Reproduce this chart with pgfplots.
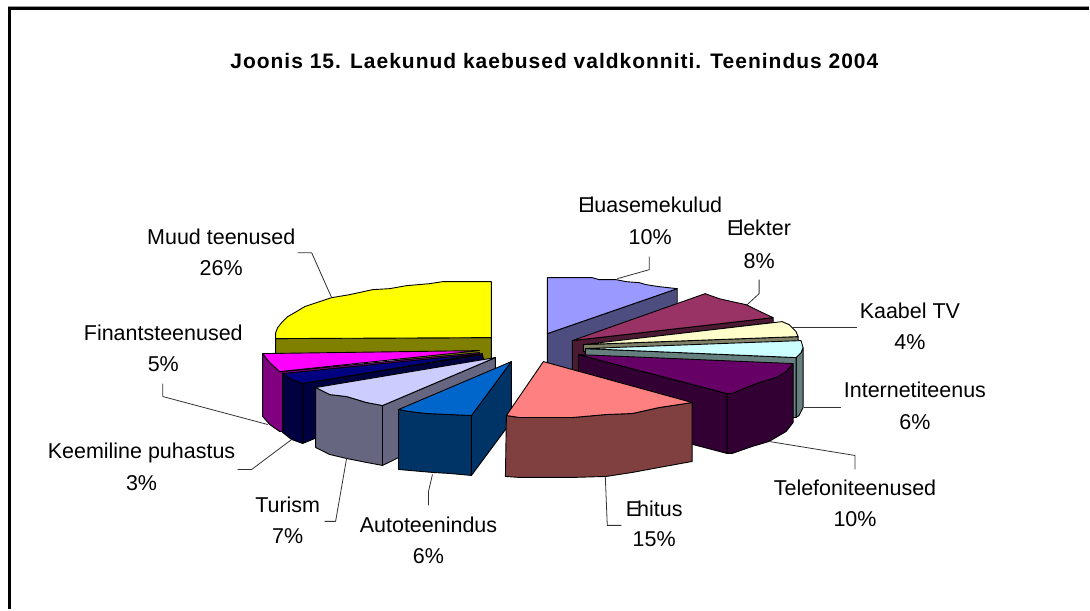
\documentclass[border=0pt]{standalone}
\usepackage{fontspec}
\setmainfont{Liberation Sans}
\usepackage{pgfplots}
\pgfplotsset{compat=1.18}
\definecolor{eluT}{HTML}{9999FF}\definecolor{eluS}{HTML}{4D4D80}
\definecolor{eleT}{HTML}{993366}\definecolor{eleS}{HTML}{4D1A33}
\definecolor{kaaT}{HTML}{FFFFCC}\definecolor{kaaS}{HTML}{808066}
\definecolor{intT}{HTML}{CCFFFF}\definecolor{intS}{HTML}{668080}
\definecolor{telT}{HTML}{660066}\definecolor{telS}{HTML}{330033}
\definecolor{ehiT}{HTML}{FF8080}\definecolor{ehiS}{HTML}{804040}
\definecolor{autT}{HTML}{0066CC}\definecolor{autS}{HTML}{003366}
\definecolor{turT}{HTML}{CCCCFF}\definecolor{turS}{HTML}{666680}
\definecolor{keeT}{HTML}{000080}\definecolor{keeS}{HTML}{000040}
\definecolor{finT}{HTML}{FF00FF}\definecolor{finS}{HTML}{800080}
\definecolor{muuT}{HTML}{FFFF00}\definecolor{muuS}{HTML}{808000}
\newcommand{\lab}[5]{%
  \node[anchor=center,inner sep=0pt,text=black] at (axis cs:#1,#2) {\fontsize{21.5}{21.5}\selectfont #4};
  \node[anchor=center,inner sep=0pt,text=black] at (axis cs:#1,#3) {\fontsize{21.5}{21.5}\selectfont #5};}
\pgfplotsset{face/.style={fill=#1,draw=black,line width=0.9pt,line join=round},
  lead/.style={draw=black!80,line width=0.8pt,line join=round}}
\begin{document}
\begin{tikzpicture}
\begin{axis}[scale only axis,width=1090pt,height=610pt,xmin=0,xmax=1090,ymin=0,ymax=610,y dir=reverse,hide axis,clip=false,mark=none,no markers]
\addplot[fill=white,draw=none] coordinates {(0,0)(1090,0)(1090,610)(0,610)} -- cycle;
% frame
\addplot[draw=black!40,line width=1.2pt] coordinates {(8,6.6)(1090,6.6)};
\addplot[draw=black,line width=2.6pt] coordinates {(9.5,610)(9.5,8.5)(1090,8.5)};
% Muud teenused
\addplot[face=muuS] coordinates {(276,339)(492,338)(492,362)(276,356)} -- cycle;
\addplot[face=muuT] coordinates {(492,282)(443,282)(430,284)(407,286)(390,289)(373,290)(350,295)(332,298)(317,303)(305,307)(295,313)(288,317)(282,323)(278,328)(276,333)(276,339)(492,338)} -- cycle;
% Eluasemekulud
\addplot[face=eluS] coordinates {(548,334)(678,289)(678,310)(573,372)(548,368)} -- cycle;
\addplot[face=eluT] coordinates {(548,278)(593,278)(600,280)(617,280)(627,282)(640,283)(647,285)(660,287)(678,289)(548,334)} -- cycle;
% Elekter
\addplot[face=eleS] coordinates {(573,341)(774,318)(774,323)(590,345)(590,375)(573,372)} -- cycle;
\addplot[face=eleT] coordinates {(573,341)(706,294)(720,299)(733,302)(747,305)(757,310)(774,318)} -- cycle;
% Kaabel TV
\addplot[face=kaaS] coordinates {(584,345)(799,337)(799,342)(584,352)} -- cycle;
\addplot[face=kaaT] coordinates {(584,345)(783,322)(790,325)(797,332)(799,337)} -- cycle;
% Internetiteenus
\addplot[face=intS] coordinates {(797,358)(802,353)(804,348)(804,408)(800,416)(797,418)} -- cycle;
\addplot[face=intS] coordinates {(586,349)(797,358)(797,418)(786,418)(786,368)(586,356)} -- cycle;
\addplot[face=intT] coordinates {(586,349)(802,341)(804,348)(802,353)(797,358)} -- cycle;
% Telefoniteenused
\addplot[face=telS] coordinates {(579,355)(728,394)(728,454)(579,415)} -- cycle;
\addplot[face=telS] coordinates {(728,394)(733,394)(747,388)(760,383)(777,378)(787,372)(794,364)(794,423)(787,432)(770,442)(753,447)(733,454)(728,454)} -- cycle;
\addplot[face=telT] coordinates {(579,355)(794,364)(787,372)(777,378)(760,383)(747,388)(733,394)(728,394)} -- cycle;
% Finantsteenused
\addplot[face=finS] coordinates {(263,354)(270,363)(280,372)(283,372)(283,432)(280,432)(270,425)(263,417)} -- cycle;
\addplot[face=finS] coordinates {(283,372)(480,353)(480,356)(283,380)} -- cycle;
\addplot[face=finT] coordinates {(263,354)(480,351)(280,372)(270,363)} -- cycle;
% Keemiline puhastus
\addplot[face=keeS] coordinates {(303,384)(483,355)(484,359)(484,370)(303,444)} -- cycle;
\addplot[face=keeS] coordinates {(283,374)(292,380)(303,384)(303,444)(292,440)(283,433)} -- cycle;
\addplot[face=keeT] coordinates {(283,374)(483,354)(303,384)(292,380)} -- cycle;
% Turism
\addplot[face=turS] coordinates {(383,406)(496,358)(496,368)(496,410)(383,466)} -- cycle;
\addplot[face=turS] coordinates {(316,388)(330,395)(347,397)(367,403)(383,406)(383,466)(367,463)(347,459)(330,455)(316,448)} -- cycle;
\addplot[face=turT] coordinates {(316,388)(496,358)(383,406)(367,403)(347,397)(330,395)} -- cycle;
% Autoteenindus
\addplot[face=autS] coordinates {(472,416)(512,362)(512,422)(472,476)} -- cycle;
\addplot[face=autS] coordinates {(399,410)(410,412)(427,414)(450,415)(472,416)(472,476)(450,474)(433,473)(410,471)(399,470)} -- cycle;
\addplot[face=autT] coordinates {(399,410)(410,412)(427,414)(450,415)(472,416)(512,362)} -- cycle;
% Ehitus
\addplot[face=ehiS] coordinates {(507,416)(520,418)(573,418)(607,415)(633,414)(660,408)(693,403)(693,462)(660,468)(633,473)(607,477)(573,478)(520,478)(506,477)} -- cycle;
\addplot[face=ehiT] coordinates {(544,362)(693,403)(660,408)(633,414)(607,415)(573,418)(520,418)(507,416)} -- cycle;
% leader lines
\addplot[lead] coordinates {(298,253)(312,253)(332,298)};
\addplot[lead] coordinates {(163,384)(163,397)(268,425)};
\addplot[lead] coordinates {(238,470)(252,470)(292,440)};
\addplot[lead] coordinates {(347,459)(336,522)(325,522)};
\addplot[lead] coordinates {(433,475)(429,492)(429,506)};
\addplot[lead] coordinates {(606,477)(608,526)(622,526)};
\addplot[lead] coordinates {(770,442)(856,456)(856,470)};
\addplot[lead] coordinates {(805,408)(842,408)};
\addplot[lead] coordinates {(793,328)(858,328)};
\addplot[lead] coordinates {(760,280)(760,294)(747,306)};
\addplot[lead] coordinates {(650,257)(650,270)(618,279)};
% text
\node[anchor=center,inner sep=0pt] at (axis cs:555,61) {\fontsize{21}{21}\selectfont\addfontfeature{LetterSpace=4.8}\bfseries Joonis 15. Laekunud kaebused valdkonniti. Teenindus 2004};
\lab{221.5}{237}{268}{Muud teenused}{26\%}
\lab{163.5}{333}{365}{Finantsteenused}{5\%}
\lab{141.7}{453}{484}{Keemiline puhastus}{3\%}
\lab{288}{505}{537}{Turism}{7\%}
\lab{429}{525}{557}{Autoteenindus}{6\%}
\lab{655}{509}{540}{E\kern-3pt hitus}{15\%}
\lab{856}{488}{520}{Telefoniteenused}{10\%}
\lab{916}{390}{423}{Internetiteenus}{6\%}
\lab{911}{311}{343}{Kaabel TV}{4\%}
\lab{760}{228}{261}{E\kern-3pt lekter}{8\%}
\lab{651}{205}{237}{E\kern-3pt luasemekulud}{10\%}
\end{axis}
\end{tikzpicture}
\end{document}
